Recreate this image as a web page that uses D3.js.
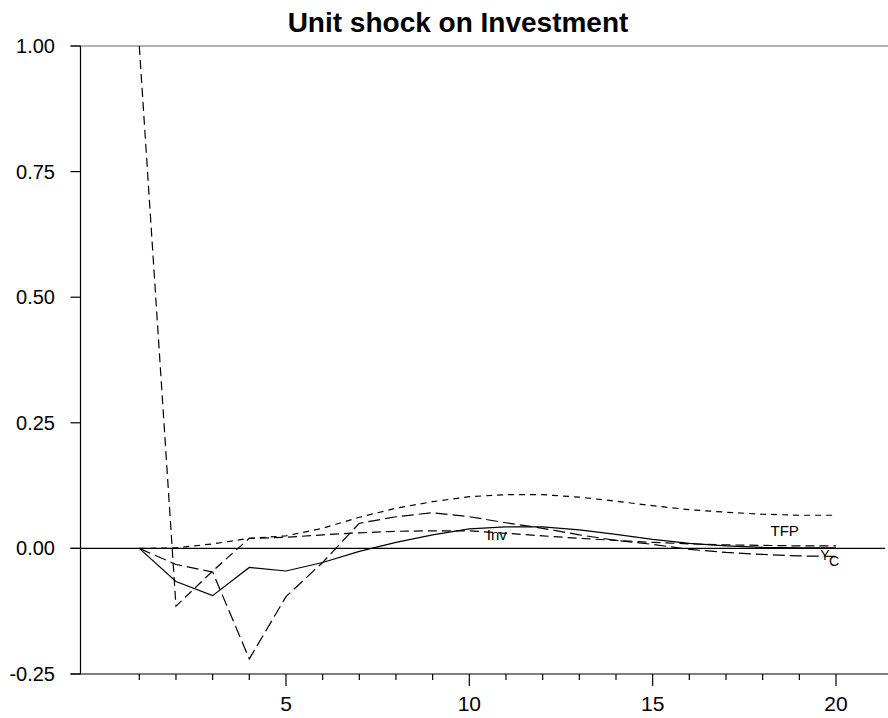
<!DOCTYPE html>
<html>
<head>
<meta charset="utf-8">
<script src="https://cdn.jsdelivr.net/npm/d3@7"></script>
<style>
  html, body { margin: 0; padding: 0; background: #fff; }
  svg { display: block; }
  text { font-family: Arial, "Liberation Sans", sans-serif; fill: #000; }
</style>
</head>
<body>
<svg id="chart" width="888" height="718"></svg>
<script>
// ---- data ----
const periods = d3.range(1, 21);
const invValues = [1.0, -0.115, -0.045, 0.020, 0.022, 0.027, 0.031, 0.034, 0.035, 0.035, 0.030, 0.025, 0.020, 0.016, 0.012, 0.009, 0.007, 0.006, 0.005, 0.005];
const tfpValues = [0.0, 0.001, 0.009, 0.020, 0.025, 0.040, 0.062, 0.080, 0.093, 0.103, 0.107, 0.107, 0.102, 0.094, 0.085, 0.077, 0.072, 0.068, 0.066, 0.066];
const yValues   = [0.0, -0.066, -0.094, -0.038, -0.045, -0.028, -0.006, 0.012, 0.027, 0.039, 0.043, 0.043, 0.037, 0.028, 0.018, 0.010, 0.005, 0.002, 0.001, 0.001];
const cValues   = [0.0, -0.032, -0.047, -0.220, -0.096, -0.028, 0.050, 0.063, 0.071, 0.063, 0.051, 0.040, 0.027, 0.016, 0.008, -0.002, -0.008, -0.012, -0.015, -0.016];
const seriesNames = ["Inv", "TFP", "Y", "C"];
const yTicks = [-0.25, 0, 0.25, 0.5, 0.75, 1.0];
const yTickLabels = ["-0.25", "0.00", "0.25", "0.50", "0.75", "1.00"];
const xMajorTicks = [5, 10, 15, 20];
const titleText = "Unit shock on Investment";

// ---- layout ----
const svg = d3.select("#chart");
const x = d3.scaleLinear().domain([1, 20]).range([139.3, 836]);
const y = d3.scaleLinear().domain([-0.25, 1.0]).range([674, 46]);
const leftX = 80.5, rightX = 888, tickL = 10;

// title
svg.append("text").attr("x", 458).attr("y", 32).attr("text-anchor", "middle")
  .attr("font-size", 28).attr("font-weight", "bold").text(titleText);

// frame lines
svg.append("line").attr("x1", leftX - tickL).attr("x2", rightX).attr("y1", 46).attr("y2", 46)
  .attr("stroke", "#666").attr("stroke-width", 1.2);
svg.append("line").attr("x1", leftX).attr("x2", leftX).attr("y1", 46).attr("y2", 674)
  .attr("stroke", "#000").attr("stroke-width", 1.2);
svg.append("line").attr("x1", leftX - tickL).attr("x2", rightX).attr("y1", 674).attr("y2", 674)
  .attr("stroke", "#000").attr("stroke-width", 1.2);
// zero line
svg.append("line").attr("x1", leftX - tickL).attr("x2", 885).attr("y1", y(0)).attr("y2", y(0))
  .attr("stroke", "#000").attr("stroke-width", 1.2);

// y ticks
yTicks.forEach((t, i) => {
  svg.append("line").attr("x1", leftX - tickL).attr("x2", leftX).attr("y1", y(t)).attr("y2", y(t))
    .attr("stroke", "#000").attr("stroke-width", 1.2);
  svg.append("text").attr("x", 55).attr("y", y(t) + 7).attr("text-anchor", "end")
    .attr("font-size", 20).text(yTickLabels[i]);
});

// x ticks
periods.forEach(p => {
  const major = xMajorTicks.includes(p);
  svg.append("line").attr("x1", x(p)).attr("x2", x(p)).attr("y1", 674).attr("y2", major ? 686 : 680)
    .attr("stroke", "#000").attr("stroke-width", 1.2);
  if (major) {
    svg.append("text").attr("x", x(p)).attr("y", 711).attr("text-anchor", "middle")
      .attr("font-size", 21).text(String(p));
  }
});

// lines
const line = d3.line().x((d, i) => x(periods[i])).y(d => y(d));
const series = [
  { name: "Inv", values: invValues, dash: "9,5" },
  { name: "TFP", values: tfpValues, dash: "6,5" },
  { name: "Y",   values: yValues,   dash: null },
  { name: "C",   values: cValues,   dash: "12,5" }
];
series.forEach(s => {
  const p = svg.append("path").attr("d", line(s.values)).attr("fill", "none")
    .attr("stroke", "#000").attr("stroke-width", 1.2);
  if (s.dash) p.attr("stroke-dasharray", s.dash);
});

// line labels
const labels = [
  { text: "Inv", px: 10.75, v: 0.017, size: 15 },
  { text: "TFP", px: 18.6, v: 0.025, size: 15 },
  { text: "Y",   px: 19.7, v: -0.024, size: 14 },
  { text: "C",   px: 19.95, v: -0.036, size: 14 }
];
labels.forEach(l => {
  svg.append("text").attr("x", x(l.px)).attr("y", y(l.v)).attr("text-anchor", "middle")
    .attr("font-size", l.size).text(l.text);
});
</script>
</body>
</html>
